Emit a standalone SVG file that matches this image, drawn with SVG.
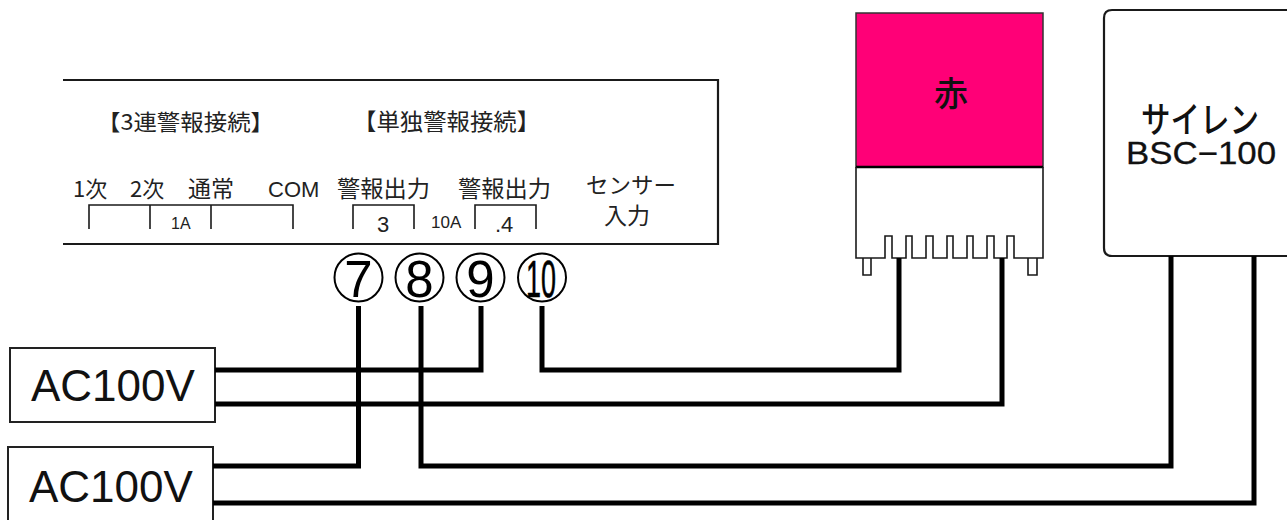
<svg xmlns="http://www.w3.org/2000/svg" width="1287" height="520" viewBox="0 0 1287 520">
<style>
.o{fill:none;stroke:#1a1a1a;stroke-width:1.6}
.t{fill:none;stroke:#1a1a1a;stroke-width:2.2}
.b{fill:#fff;stroke:#222;stroke-width:2}
.w{fill:none;stroke:#000;stroke-width:5;stroke-linejoin:miter}
.j{font-family:"Noto Sans CJK JP","Liberation Sans",sans-serif;fill:#222}
.l{font-family:"Liberation Sans",Arial,sans-serif;fill:#222}
.k{fill:#111}
.n{font-family:"Liberation Sans",Arial,sans-serif;fill:#000;font-size:51px;text-anchor:middle}
.c{fill:none;stroke:#000;stroke-width:2}
</style>
<rect width="1287" height="520" fill="#fff"/>
<g id="panel">
<path class="t" d="M63 80H718V244H63"/>
<path class="o" d="M89 229V205H293V229M150 205V229M211 205V229M353 229V205H414V229M475 229V205H536V229"/>
<text class="j" x="97" y="130" font-size="22" textLength="177" lengthAdjust="spacingAndGlyphs">【3連警報接続】</text>
<text class="j" x="353" y="130" font-size="23" textLength="187" lengthAdjust="spacingAndGlyphs">【単独警報接続】</text>
<text class="j" x="73" y="197" font-size="22">1次</text>
<text class="j" x="130" y="197" font-size="22">2次</text>
<text class="j" x="188" y="197" font-size="23">通常</text>
<text class="l" x="268" y="197" font-size="22">COM</text>
<text class="j" x="337" y="197" font-size="23" textLength="93" lengthAdjust="spacingAndGlyphs">警報出力</text>
<text class="j" x="458" y="197" font-size="23" textLength="93" lengthAdjust="spacingAndGlyphs">警報出力</text>
<text class="j" x="586" y="193" font-size="22" textLength="90" lengthAdjust="spacingAndGlyphs">センサー</text>
<text class="j" x="604" y="224" font-size="23">入力</text>
<text class="l" x="171" y="229" font-size="16">1A</text>
<text class="l" x="377" y="232" font-size="22">3</text>
<text class="l" x="431" y="228" font-size="17">10A</text>
<text class="l" x="495" y="232" font-size="22">.4</text>
</g>
<g id="terminal-7"><circle class="c" cx="358.5" cy="277.5" r="24"/><text class="n" x="358.5" y="296.500">7</text></g>
<g id="terminal-8"><circle class="c" cx="419.5" cy="277.5" r="24"/><text class="n" x="419.5" y="296.500">8</text></g>
<g id="terminal-9"><circle class="c" cx="480.5" cy="277.5" r="24"/><text class="n" x="480.5" y="296.500">9</text></g>
<g id="terminal-10"><circle class="c" cx="542" cy="277.5" r="24"/><text class="n" x="541" y="296.500" textLength="30" lengthAdjust="spacingAndGlyphs" stroke="#000" stroke-width="0.6">10</text></g>
<g id="lamp">
<rect x="856" y="13" width="187" height="154" fill="#ff0077" stroke="#333" stroke-width="1.5"/>
<path d="M856 167H1043" stroke="#000" stroke-width="2.5"/>
<path class="o" d="M856 167V258H885V236H892V258H906V236H912V258H926V236H933V258H947V236H953V258H967V236H973V258H987V236H994V258H1007V236H1014V258H1043V167"/>
<path class="o" d="M863 258V275H871V258M1028 258V275H1037V258"/>
<text class="j k" x="951" y="106" font-size="34" text-anchor="middle" font-weight="500">赤</text>
</g>
<g id="siren">
<path class="t" d="M1287 10H1112Q1104 10 1104 18V248Q1104 256 1112 256H1287"/>
<text class="j k" x="1141" y="133" font-size="36" textLength="118" lengthAdjust="spacingAndGlyphs" font-weight="500">サイレン</text>
<text class="l k" x="1126" y="164" font-size="31" textLength="150" lengthAdjust="spacingAndGlyphs" stroke="#111" stroke-width="0.3">BSC−100</text>
</g>
<g id="ac1"><rect class="b" x="10" y="348" width="205" height="74"/><text class="l k" x="31" y="401" font-size="44">AC100V</text></g>
<g id="ac2"><rect class="b" x="8" y="447" width="205" height="90"/><text class="l k" x="29" y="502" font-size="44">AC100V</text></g>
<g id="connectors">
<path class="w" d="M215 370H481V306"/>
<path class="w" d="M215 404H1002V258"/>
<path class="w" d="M213 466H358.500V306"/>
<path class="w" d="M213 503H1254V256"/>
<path class="w" d="M421 306V466H1171V256"/>
<path class="w" d="M542 306V370H899V258"/>
</g>
</svg>
